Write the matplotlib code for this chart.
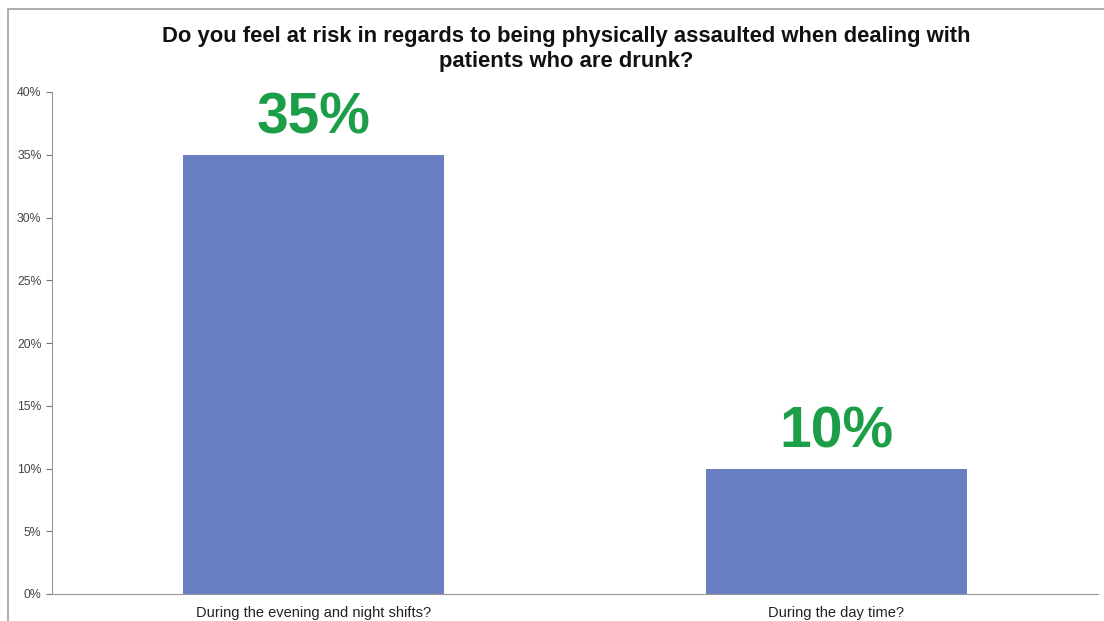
import matplotlib
matplotlib.use('Agg')
import matplotlib.pyplot as plt
from matplotlib.patches import Rectangle
from matplotlib.ticker import FuncFormatter, MultipleLocator

title = 'Do you feel at risk in regards to being physically assaulted when dealing with\npatients who are drunk?'
categories = ['During the evening and night shifts?', 'During the day time?']
values = [35, 10]
labels = ['35%', '10%']

plt.rcParams['font.family'] = ['Liberation Sans', 'DejaVu Sans']

fig = plt.figure(figsize=(11.04, 6.21), dpi=100)
ax = fig.add_axes([52 / 1104, 1 - 594 / 621, (1098 - 52) / 1104, (594 - 92) / 621])

# outer frame like the exported chart border
fig.patches.append(Rectangle((8 / 1104, -0.05), 1.2, 1 - 9 / 621 + 0.05, transform=fig.transFigure,
                             fill=False, edgecolor='#a0a0a0', linewidth=1.2))

x = range(len(categories))
ax.bar(x, values, width=0.5, color='#6a7fc1')
for xi, v, lab in zip(x, values, labels):
    ax.text(xi, v + 0.7, lab, ha='center', va='bottom', color='#1c9e48',
            fontsize=41, fontweight='bold')

ax.set_xlim(-0.5, 1.5)
ax.set_ylim(0, 40)
ax.yaxis.set_major_locator(MultipleLocator(5))
ax.yaxis.set_major_formatter(FuncFormatter(lambda v, p: '%d%%' % v))
ax.set_xticks(list(x))
ax.set_xticklabels(categories, fontsize=10.5, color='#222222')
ax.tick_params(axis='y', labelsize=8.8, colors='#777777', length=4, width=0.8, direction='out', pad=3.5)
ax.tick_params(axis='y', labelcolor='#444444')
ax.tick_params(axis='x', length=0, pad=9)

for s in ['top', 'right']:
    ax.spines[s].set_visible(False)
ax.spines['left'].set_color('#999999')
ax.spines['bottom'].set_color('#999999')

fig.text(0.513, 1 - 49 / 621, title, ha='center', va='center', fontsize=15.8,
         fontweight='bold', color='#111111', linespacing=1.3)

fig.savefig('out.png', dpi=100)
